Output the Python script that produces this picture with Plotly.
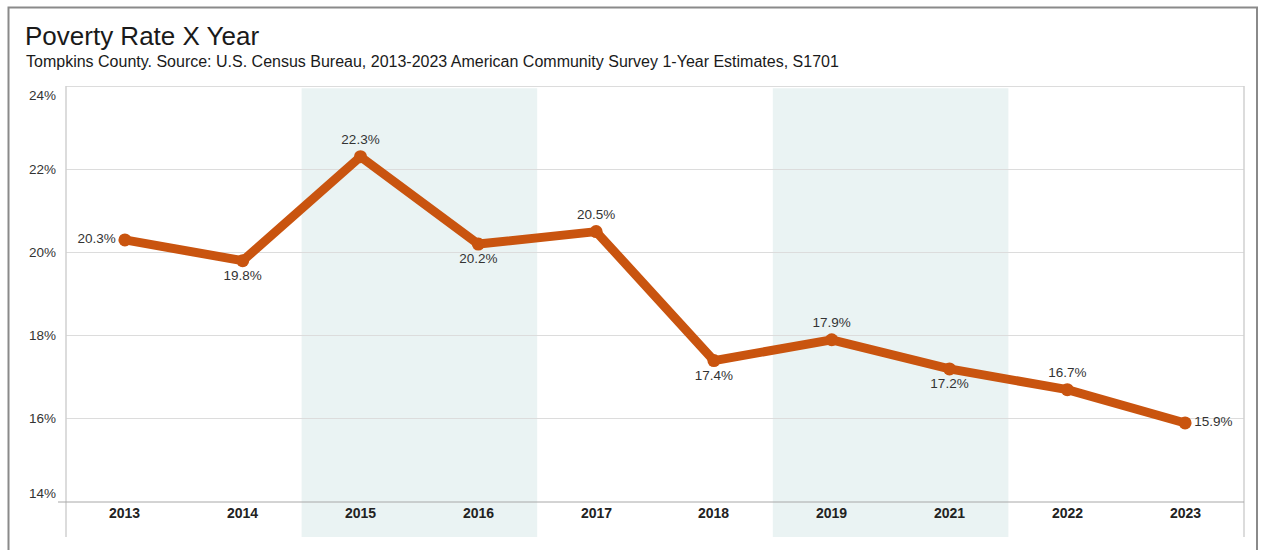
import plotly.graph_objects as go

years = ["2013", "2014", "2015", "2016", "2017", "2018", "2019", "2021", "2022", "2023"]
poverty_rate = [20.3, 19.8, 22.3, 20.2, 20.5, 17.4, 17.9, 17.2, 16.7, 15.9]
label_side = ["middle left", "bottom center", "top center", "bottom center", "top center",
              "bottom center", "top center", "bottom center", "top center", "middle right"]
y_ticks = [14, 16, 18, 20, 22, 24]
shaded_years = [("2015", "2016"), ("2019", "2021")]

W, H = 1262, 550
L, R, T, B = 66, 1244, 86, 537
Y_TOP, PX_PER_PCT = 24, 41.6
Y_BOTTOM = Y_TOP - (B - T) / PX_PER_PCT

def px_x(px):
    return (px - L) / (R - L)

def px_y(py):
    return (B - py) / (B - T)

line_color = "#c9540f"
text_color = "#333333"
font_family = "Liberation Sans, Arial, sans-serif"

fig = go.Figure()
fig.add_trace(go.Scatter(
    x=list(range(len(years))), y=poverty_rate,
    mode="lines+markers+text",
    line=dict(color=line_color, width=9),
    marker=dict(color=line_color, size=13),
    text=[f"{v:.1f}%" for v in poverty_rate],
    textposition=label_side,
    textfont=dict(size=13.5, color=text_color, family=font_family),
    cliponaxis=False,
    hoverinfo="skip",
))

shapes = []
for a, b in shaded_years:
    i0, i1 = years.index(a), years.index(b)
    shapes.append(dict(type="rect", xref="x", yref="paper", x0=i0 - 0.5, x1=i1 + 0.5,
                       y0=0, y1=0.995, fillcolor="#eaf3f3", line=dict(width=0), layer="below"))
# frame lines of the plot area
shapes.append(dict(type="line", xref="paper", yref="paper", x0=0, x1=0, y0=0, y1=1,
                   line=dict(color="#d0d0d0", width=1.5)))
shapes.append(dict(type="line", xref="paper", yref="paper", x0=1, x1=1, y0=0, y1=1,
                   line=dict(color="#d0d0d0", width=1.5)))
shapes.append(dict(type="line", xref="paper", yref="y", x0=0, x1=1, y0=Y_TOP, y1=Y_TOP,
                   line=dict(color="#d0d0d0", width=1.5)))
shapes.append(dict(type="line", xref="paper", yref="y", x0=px_x(58), x1=1, y0=14, y1=14,
                   line=dict(color="#a8a8a8", width=1)))
# outer border of the chart
shapes.append(dict(type="rect", xref="paper", yref="paper",
                   x0=px_x(8.5), x1=px_x(1257), y0=px_y(565), y1=px_y(7.5),
                   line=dict(color="#8a8a8a", width=2), fillcolor="rgba(0,0,0,0)"))

annotations = [
    dict(text="Poverty Rate X Year", xref="paper", yref="paper", x=px_x(23), y=px_y(36),
         xanchor="left", yanchor="middle", showarrow=False,
         font=dict(size=26, color="#1a1a1a", family=font_family)),
    dict(text="Tompkins County. Source: U.S. Census Bureau, 2013-2023 American Community Survey 1-Year Estimates, S1701",
         xref="paper", yref="paper", x=px_x(24), y=px_y(61), xanchor="left", yanchor="middle",
         showarrow=False, font=dict(size=16, color="#1a1a1a", family=font_family)),
]
for t in y_ticks:
    shift = -9 if t == y_ticks[-1] else (9 if t == y_ticks[0] else 0)
    annotations.append(dict(text=f"{t}%", xref="paper", yref="y", x=0, y=t, xanchor="right",
                            yanchor="middle", xshift=-8, yshift=shift, showarrow=False,
                            font=dict(size=13.5, color=text_color, family=font_family)))
for i, yr in enumerate(years):
    annotations.append(dict(text=f"<b>{yr}</b>", xref="x", yref="y", x=i, y=14, yanchor="middle",
                            yshift=-11, showarrow=False,
                            font=dict(size=14, color="#222222", family=font_family)))

fig.update_layout(
    width=W, height=H,
    margin=dict(l=L, r=W - R, t=T, b=H - B),
    paper_bgcolor="white", plot_bgcolor="rgba(0,0,0,0)",
    showlegend=False,
    xaxis=dict(range=[-0.5, len(years) - 0.5], showgrid=False, zeroline=False,
               showticklabels=False, showline=False, fixedrange=True),
    yaxis=dict(range=[Y_BOTTOM, Y_TOP], tickvals=y_ticks[1:], showticklabels=False,
               gridcolor="#dcdcdc", gridwidth=1, zeroline=False, showline=False, fixedrange=True),
    shapes=shapes,
    annotations=annotations,
)

fig.write_html("out.html")
